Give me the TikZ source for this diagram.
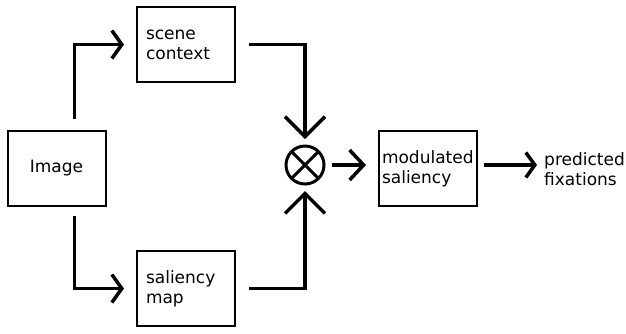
\documentclass[tikz,border=0pt]{standalone}
\usepackage{fontspec}
\setmainfont{DejaVu Sans}
\usetikzlibrary{arrows.meta}
\begin{document}
\begin{tikzpicture}[x=1pt,y=-1pt,
  txt/.style={font=\fontsize{17}{19.8}\selectfont},
  box/.style={txt,draw,line width=2pt,minimum width=98pt,minimum height=75pt},
  lbox/.style={box,align=left,text width=80pt,inner xsep=9pt},
  mbox/.style={box,align=left,text width=92pt,inner xsep=3pt},
  conn/.style={line width=3.5pt},
  tipA/.style={-{Straight Barb[length=10pt,width=28pt]}},
  tipB/.style={-{Straight Barb[length=20pt,width=40pt]}},
  tipC/.style={-{Straight Barb[length=14pt,width=30pt]}},
  tipD/.style={-{Straight Barb[length=9pt,width=25pt]}}
]
\useasboundingbox[fill=white] (0,0) rectangle (626,333);
\node[box] (img) at (56.5,168.5) {Image};
\node[lbox] (sc) at (186,44.5) {scene\\context};
\node[lbox] (sm) at (186,288.5) {saliency\\map};
\node[mbox] (mod) at (428,168.5) {modulated\\saliency};
\node[circle,draw,line width=3pt,minimum size=38pt,inner sep=0pt,outer sep=0pt] (circ) at (305,165) {};
\draw[line width=3pt] (circ.north east) -- (circ.south west) (circ.north west) -- (circ.south east);
\node[txt,anchor=west,align=left,inner sep=0pt] (pred) at (544,169.5) {predicted\\fixations};
\draw[conn,tipA] ([xshift=18pt,yshift=11pt]img.north) |- ([xshift=-12pt]sc.west);
\draw[conn,tipA] ([xshift=18pt,yshift=-9pt]img.south) |- ([xshift=-12pt]sm.west);
\draw[conn,tipB] ([xshift=13pt]sc.east) -| ([yshift=7pt]circ.north);
\draw[conn,tipB] ([xshift=13pt]sm.east) -| ([yshift=-7pt]circ.south);
\draw[conn,tipC] ([xshift=8pt]circ.east) -- ([xshift=-12pt]circ.east -| mod.west);
\draw[conn,tipD] ([xshift=6pt]circ.east -| mod.east) -- ([xshift=-7pt]circ.east -| pred.west);
\end{tikzpicture}
\end{document}
